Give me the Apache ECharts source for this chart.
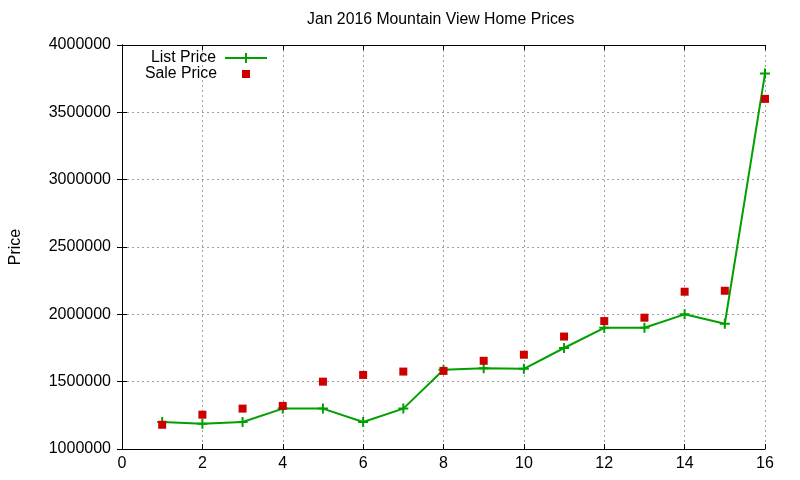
<!DOCTYPE html>
<html>
<head>
<meta charset="utf-8">
<script src="https://cdn.jsdelivr.net/npm/echarts@6/dist/echarts.min.js"></script>
<style>
  html, body { margin: 0; padding: 0; background: #fff; }
  #chart { width: 800px; height: 480px; }
</style>
</head>
<body>
<div id="chart"></div>
<script>
var homes = [1, 2, 3, 4, 5, 6, 7, 8, 9, 10, 11, 12, 13, 14, 15, 16];
var listPrice = [1200000, 1188000, 1200000, 1300000, 1300000, 1200000, 1300000, 1588000,
  1600000, 1595000, 1750000, 1900000, 1900000, 2000000, 1930000, 3788000];
var salePrice = [1180000, 1255000, 1300000, 1320000, 1500000, 1550000, 1575000, 1580000,
  1655000, 1700000, 1835000, 1950000, 1975000, 2168000, 2175000, 3600000];

(function() {
  var font = '"Liberation Sans", Arial, sans-serif';
  var green = '#00a000';
  var red = '#cc0000';
  var gridLine = { show: true, lineStyle: { color: '#a0a0a0', type: [2, 3], width: 1 } };
  var plus = 'path://M4,0H6V4H10V6H6V10H4V6H0V4H4Z';

  var chart = echarts.init(document.getElementById('chart'), null, { renderer: 'canvas' });

  var listData = homes.map(function(h, i) { return [h, listPrice[i]]; });
  var saleData = homes.map(function(h, i) { return [h, salePrice[i]]; });

  chart.setOption({
    animation: false,
    textStyle: { fontFamily: font, color: '#000' },
    title: {
      text: 'Jan 2016 Mountain View Home Prices',
      left: 307,
      top: 12,
      padding: 0,
      textStyle: { fontFamily: font, fontSize: 15.8, fontWeight: 'normal', color: '#000' }
    },
    legend: [
      {
        data: [{ name: 'List Price', icon: 'path://M0,4H42V6H0Z M20,0H22V10H20Z' }],
        right: 533,
        top: 50,
        padding: 0,
        align: 'right',
        itemWidth: 42,
        itemHeight: 10,
        selectedMode: false,
        textStyle: { fontFamily: font, fontSize: 15.8, color: '#000', padding: [0, 4, 0, 0] }
      },
      {
        data: [{ name: 'Sale Price', icon: 'rect' }],
        right: 550,
        top: 66,
        padding: 0,
        align: 'right',
        itemWidth: 8,
        itemHeight: 8,
        selectedMode: false,
        textStyle: { fontFamily: font, fontSize: 15.8, color: '#000', padding: [0, 20, 0, 0] }
      }
    ],
    grid: { left: 119, right: 35, top: 45, bottom: 31, containLabel: false },
    xAxis: [
      {
        type: 'value', min: 0, max: 16, interval: 2,
        axisLine: { show: true, lineStyle: { color: '#000', width: 1 } },
        axisTick: { show: true, inside: true, length: 5, lineStyle: { color: '#000' } },
        axisLabel: { color: '#000', fontSize: 16, fontFamily: font, margin: 7 },
        splitLine: gridLine
      },
      {
        type: 'value', min: 0, max: 16, interval: 2, position: 'top',
        axisLine: { show: true, lineStyle: { color: '#000', width: 1 } },
        axisTick: { show: true, inside: true, length: 5, lineStyle: { color: '#000' } },
        axisLabel: { show: false },
        splitLine: { show: false }
      }
    ],
    yAxis: [
      {
        type: 'value', min: 1000000, max: 4000000, interval: 500000,
        name: 'Price', nameLocation: 'middle', nameRotate: 90, nameGap: 98,
        nameTextStyle: { color: '#000', fontSize: 16, fontFamily: font },
        axisLine: { show: true, lineStyle: { color: '#000', width: 1 } },
        axisTick: { show: true, inside: true, length: 5, lineStyle: { color: '#000' } },
        axisLabel: {
          color: '#000', fontSize: 16, fontFamily: font, margin: 11,
          formatter: function(v) { return String(v); }
        },
        splitLine: gridLine
      },
      {
        type: 'value', min: 1000000, max: 4000000, interval: 500000, position: 'right',
        axisLine: { show: true, lineStyle: { color: '#000', width: 1 } },
        axisTick: { show: true, inside: true, length: 5, lineStyle: { color: '#000' } },
        axisLabel: { show: false },
        splitLine: { show: false }
      }
    ],
    series: [
      {
        name: 'List Price',
        type: 'line',
        data: listData,
        clip: false,
        symbol: plus,
        symbolSize: 10,
        showSymbol: true,
        lineStyle: { color: green, width: 2 },
        itemStyle: { color: green },
        z: 2
      },
      {
        name: 'Sale Price',
        type: 'scatter',
        data: saleData,
        clip: false,
        symbol: 'rect',
        symbolSize: 8,
        itemStyle: { color: red, opacity: 1 },
        z: 3
      }
    ]
  });

  window.addEventListener('resize', function() { chart.resize(); });
})();
</script>
</body>
</html>
